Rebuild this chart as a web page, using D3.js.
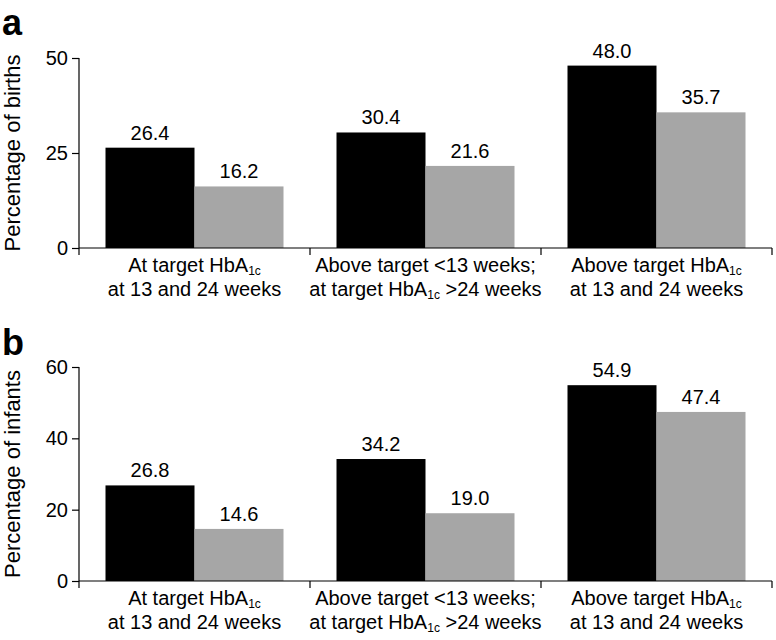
<!DOCTYPE html>
<html>
<head>
<meta charset="utf-8">
<script src="https://cdn.jsdelivr.net/npm/d3@7"></script>
<style>
  html, body { margin: 0; padding: 0; background: #fff; }
  svg { display: block; font-family: "Liberation Sans", Arial, Helvetica, sans-serif; }
</style>
</head>
<body>
<svg id="chart" width="776" height="640"></svg>
<script>
// ---- Data ----
const categories = ["cat1", "cat2", "cat3"];
// Category labels: [line1 prefix, subscript, line1 suffix], [line2 prefix, subscript, line2 suffix]
const categoryLabels = [
  [["At target HbA", "1c", ""], ["at 13 and 24 weeks", "", ""]],
  [["Above target <13 weeks;", "", ""], ["at target HbA", "1c", " >24 weeks"]],
  [["Above target HbA", "1c", ""], ["at 13 and 24 weeks", "", ""]]
];
const seriesNames = ["black", "gray"];
const birthsBlack = [26.4, 30.4, 48.0];
const birthsGray = [16.2, 21.6, 35.7];
const infantsBlack = [26.8, 34.2, 54.9];
const infantsGray = [14.6, 19.0, 47.4];
const birthsTicks = [0, 25, 50];
const infantsTicks = [0, 20, 40, 60];
const seriesColors = ["#000000", "#a6a6a6"];

const svg = d3.select("#chart");

function drawPanel(opts) {
  const { letter, letterY, yTitle, top, bottom, yMax, ticks, black, gray } = opts;
  const left = 79, right = 772;
  const x = d3.scaleBand().domain(categories).range([left, right]).paddingInner(0).paddingOuter(0);
  const y = d3.scaleLinear().domain([0, yMax]).range([bottom, top]);
  const barW = 89;
  const inner = d3.scaleBand().domain(seriesNames).range([0, barW * 2]);

  const g = svg.append("g");

  // panel letter
  g.append("text").attr("x", 2).attr("y", letterY)
    .attr("font-size", 36).attr("font-weight", "bold").text(letter);

  // y axis title
  g.append("text")
    .attr("transform", `translate(20,${(top + bottom) / 2}) rotate(-90)`)
    .attr("text-anchor", "middle").attr("font-size", 22).text(yTitle);

  // bars
  const data = categories.map((c, i) => ({ c, vals: [black[i], gray[i]] }));
  const groups = g.selectAll("g.grp").data(data).join("g")
    .attr("transform", d => `translate(${x(d.c) + (x.bandwidth() - barW * 2) / 2},0)`);
  groups.selectAll("rect").data(d => d.vals.map((v, j) => ({ v, s: seriesNames[j], j }))).join("rect")
    .attr("x", d => inner(d.s)).attr("width", inner.bandwidth())
    .attr("y", d => y(d.v)).attr("height", d => y(0) - y(d.v))
    .attr("fill", d => seriesColors[d.j]);
  groups.selectAll("text.val").data(d => d.vals.map((v, j) => ({ v, s: seriesNames[j] }))).join("text")
    .attr("class", "val")
    .attr("x", d => inner(d.s) + inner.bandwidth() / 2)
    .attr("y", d => y(d.v) - 8)
    .attr("text-anchor", "middle").attr("font-size", 20)
    .text(d => d.v.toFixed(1));

  // y axis
  const yAxis = d3.axisLeft(y).tickValues(ticks).tickSize(7).tickPadding(4).tickFormat(d3.format("d"));
  const ya = g.append("g").attr("transform", `translate(${left},0)`).call(yAxis);
  ya.select(".domain").attr("d", `M0,${top}V${bottom}`).attr("stroke", "#000").attr("stroke-width", 1.2);
  ya.selectAll(".tick line").attr("stroke", "#000").attr("stroke-width", 1.2);
  ya.selectAll(".tick text").attr("font-size", 20).attr("font-family", "Liberation Sans, Arial, sans-serif").attr("fill", "#000");

  // x axis
  const xa = g.append("g").attr("transform", `translate(0,${bottom})`);
  xa.append("line").attr("x1", left).attr("x2", right).attr("y1", 0).attr("y2", 0)
    .attr("stroke", "#000").attr("stroke-width", 1.2);
  const boundaries = categories.map(c => x(c)).concat([x(categories[categories.length - 1]) + x.bandwidth()]);
  xa.selectAll("line.tk").data(boundaries).join("line").attr("class", "tk")
    .attr("x1", d => d).attr("x2", d => d).attr("y1", 0).attr("y2", 7)
    .attr("stroke", "#000").attr("stroke-width", 1.2);

  // category labels
  categories.forEach((c, i) => {
    const cx = x(c) + x.bandwidth() / 2;
    categoryLabels[i].forEach((line, li) => {
      const t = xa.append("text").attr("x", cx).attr("y", 24 + li * 24)
        .attr("text-anchor", "middle").attr("font-size", 20);
      t.append("tspan").text(line[0]);
      if (line[1]) {
        t.append("tspan").attr("font-size", 12).attr("dy", 3).text(line[1]);
        if (line[2]) t.append("tspan").attr("dy", -3).text(line[2]);
      }
    });
  });
}

drawPanel({ letter: "a", letterY: 35, yTitle: "Percentage of births", top: 58, bottom: 248,
  yMax: 50, ticks: birthsTicks, black: birthsBlack, gray: birthsGray });
drawPanel({ letter: "b", letterY: 355, yTitle: "Percentage of infants", top: 367, bottom: 581,
  yMax: 60, ticks: infantsTicks, black: infantsBlack, gray: infantsGray });
</script>
</body>
</html>
